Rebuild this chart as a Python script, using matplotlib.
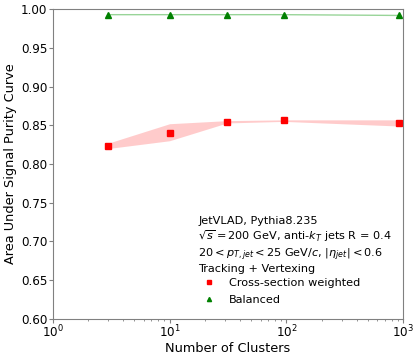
import numpy as np
import matplotlib.pyplot as plt

n_clusters = [3, 10, 31, 95, 920]
auc_weighted = [0.823, 0.8405, 0.8548, 0.8562, 0.8525]
auc_weighted_lo = [0.820, 0.830, 0.853, 0.855, 0.849]
auc_weighted_hi = [0.827, 0.852, 0.856, 0.857, 0.857]
auc_balanced = [0.993, 0.993, 0.993, 0.993, 0.992]

legend_lines = [
    "JetVLAD, Pythia8.235",
    r"$\sqrt{s} = 200$ GeV, anti-$k_{T}$ jets R = 0.4",
    r"$20 < p_{T,jet} < 25$ GeV/$c$, $|\eta_{jet}| < 0.6$",
    "Tracking + Vertexing",
]

fig = plt.figure(figsize=(4.15, 3.56), dpi=100)
ax = fig.add_axes([0.127, 0.105, 0.845, 0.869])

ax.fill_between(n_clusters, auc_weighted_lo, auc_weighted_hi,
                color='#ff9999', alpha=0.5, linewidth=0)
ax.plot(n_clusters, auc_weighted, 's', color='red', markersize=4,
        label='Cross-section weighted')
ax.plot(n_clusters, auc_balanced, '-', color='#33aa33', alpha=0.5, linewidth=1.0)
ax.plot(n_clusters, auc_balanced, '^', color='green', markersize=4,
        label='Balanced')

ax.set_xscale('log')
ax.set_xlim(1, 1000)
ax.set_ylim(0.6, 1.0)
ax.set_yticks(np.arange(0.60, 1.001, 0.05))
ax.set_xlabel("Number of Clusters", fontsize=9.3, labelpad=1)
ax.set_ylabel("Area Under Signal Purity Curve", fontsize=9.3, labelpad=3)

for s in ax.spines.values():
    s.set_color('#808080')
ax.tick_params(which='both', colors='#808080', labelcolor='black', labelsize=8.6,
               direction='out', pad=1)
ax.tick_params(which='major', length=3)
ax.tick_params(which='minor', length=1.5)

handles, labels = ax.get_legend_handles_labels()
leg = ax.legend(handles, labels, loc='lower right', bbox_to_anchor=(0.99, 0.02),
                frameon=False, fontsize=8.1, title="\n".join(legend_lines),
                title_fontsize=8.1, alignment='left', handlelength=1.8,
                handletextpad=0.9, borderaxespad=0.3, labelspacing=0.55,
                markerscale=0.75)
leg._legend_box.sep = 3

fig.savefig("out.png", dpi=100)
